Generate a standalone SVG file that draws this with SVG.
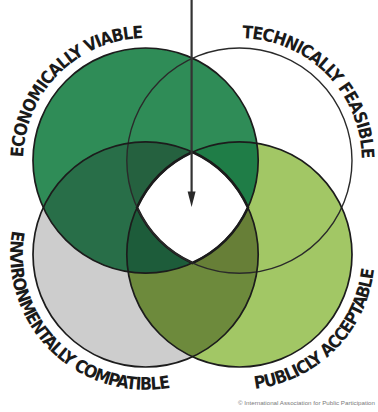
<svg xmlns="http://www.w3.org/2000/svg" width="378" height="412" viewBox="0 0 378 412">
  <style>
    .lbl { font-family: "Liberation Sans Narrow", "DejaVu Sans Condensed", "Liberation Sans", sans-serif; font-stretch: condensed; font-weight: bold; font-size: 17.5px; letter-spacing: -1px; fill: #1a1a1a; }
    .ring { fill: none; stroke: #1c1c1c; stroke-width: 1.7; }
    .copy { font-family: "Liberation Sans", Arial, sans-serif; font-size: 5.4px; fill: #7a7a7a; }
  </style>
  <defs>
    <clipPath id="cTL"><circle cx="145.6" cy="160.6" r="112.6"/></clipPath>
    <clipPath id="cTR"><circle cx="239.4" cy="160.6" r="112.6"/></clipPath>
    <clipPath id="cBL"><circle cx="145.6" cy="254.4" r="112.6"/></clipPath>
    <clipPath id="cBR"><circle cx="239.4" cy="254.4" r="112.6"/></clipPath>
    <path id="pEco" d="M 25.0 181.9 A 122.5 122.5 0 0 1 166.9 40.0"/>
    <path id="pTech" d="M 218.1 40.0 A 122.5 122.5 0 0 1 360.0 181.9"/>
    <path id="pEnv" d="M 18.3 208.1 A 135.5 135.5 0 0 0 191.9 381.7"/>
    <path id="pPub" d="M 193.1 381.7 A 135.5 135.5 0 0 0 366.7 208.1"/>
  </defs>
  <rect width="378" height="412" fill="#ffffff"/>

  <g id="fills">
    <circle cx="145.6" cy="254.4" r="112.6" fill="#cdcdcd"/>
    <circle cx="239.4" cy="254.4" r="112.6" fill="#a2c765"/>
    <circle cx="145.6" cy="160.6" r="112.6" fill="#2f8c57"/>
    <g clip-path="url(#cBL)"><circle cx="239.4" cy="254.4" r="112.6" fill="#6d8a3c"/></g>
    <g clip-path="url(#cTL)"><circle cx="145.6" cy="254.4" r="112.6" fill="#286e48"/></g>
    <g clip-path="url(#cTL)"><g clip-path="url(#cTR)"><circle cx="145.6" cy="254.4" r="112.6" fill="#25613f"/></g></g>
    <g clip-path="url(#cTL)"><g clip-path="url(#cTR)"><circle cx="239.4" cy="254.4" r="112.6" fill="#1f7d47"/></g></g>
    <g clip-path="url(#cTL)"><g clip-path="url(#cBL)"><circle cx="239.4" cy="254.4" r="112.6" fill="#1d5c3a"/></g></g>
    <g clip-path="url(#cTR)"><g clip-path="url(#cBL)"><circle cx="239.4" cy="254.4" r="112.6" fill="#677f37"/></g></g>
    <path id="center" d="M 192.5 152.0 A 112.6 112.6 0 0 1 248.0 207.5 A 112.6 112.6 0 0 1 192.5 263.0 A 112.6 112.6 0 0 1 137.0 207.5 A 112.6 112.6 0 0 1 192.5 152.0 Z" fill="#ffffff" stroke="#1a1a1a" stroke-width="2.6"/>
  </g>

  <g id="economically-viable">
    <circle class="ring" cx="145.6" cy="160.6" r="112.6"/>
    <text class="lbl"><textPath href="#pEco" startOffset="50%" text-anchor="middle">ECONOMICALLY VIABLE</textPath></text>
  </g>
  <g id="technically-feasible">
    <circle class="ring" cx="239.4" cy="160.6" r="112.6" style="stroke:#2a2a2a;stroke-width:1.4"/>
    <text class="lbl"><textPath href="#pTech" startOffset="50%" text-anchor="middle">TECHNICALLY FEASIBLE</textPath></text>
  </g>
  <g id="environmentally-compatible">
    <circle class="ring" cx="145.6" cy="254.4" r="112.6"/>
    <text class="lbl"><textPath href="#pEnv" startOffset="50%" text-anchor="middle">ENVIRONMENTALLY COMPATIBLE</textPath></text>
  </g>
  <g id="publicly-acceptable">
    <circle class="ring" cx="239.4" cy="254.4" r="112.6"/>
    <text class="lbl"><textPath href="#pPub" startOffset="50%" text-anchor="middle">PUBLICLY ACCEPTABLE</textPath></text>
  </g>

  <g id="connectors">
    <line x1="191.6" y1="0" x2="191.6" y2="194" stroke="#333333" stroke-width="2.2"/>
    <polygon points="187.6,191.5 195.6,191.5 191.6,207" fill="#2a2a2a"/>
  </g>

  <text class="copy" x="238" y="405" textLength="137" lengthAdjust="spacingAndGlyphs">© International Association for Public Participation</text>
</svg>
